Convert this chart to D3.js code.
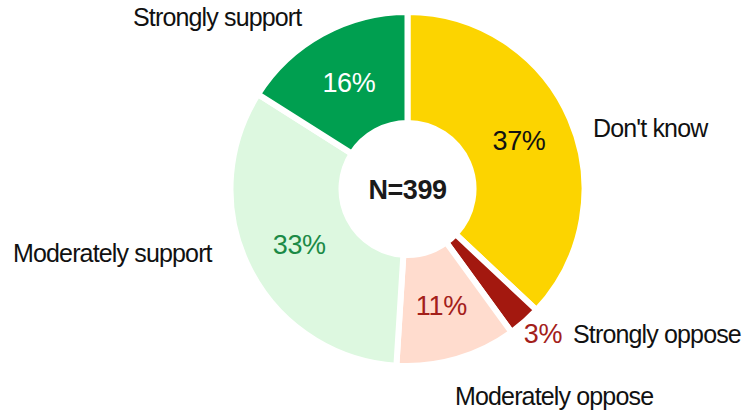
<!DOCTYPE html>
<html>
<head>
<meta charset="utf-8">
<script src="https://cdn.jsdelivr.net/npm/d3@7"></script>
<style>
  body { margin: 0; background: #fff; }
  text { font-family: "Liberation Sans", Arial, sans-serif; }
</style>
</head>
<body>
<div id="chart"></div>
<script>
// data
const categories = ["Don't know", "Strongly oppose", "Moderately oppose", "Moderately support", "Strongly support"];
const shares = [37, 3, 11, 33, 16];
const sampleSize = 399;

const colors = ["#FCD400", "#A3180F", "#FFDCCE", "#DDF8E0", "#009F50"];
const pctColors = ["#111", "#A3201A", "#A3201A", "#1B8A46", "#fff"];

// where the category names go (start x, baseline y)
const namePos = {
    "Don't know": [593, 137],
    "Strongly oppose": [573, 343],
    "Moderately oppose": [455, 405],
    "Moderately support": [13, 262],
    "Strongly support": [133, 26]
};

const width = 743, height = 412;
const cx = 407.5, cy = 189;
const rOuter = 177, rInner = 66;

const svg = d3.select("#chart").append("svg")
    .attr("width", width)
    .attr("height", height);

const data = categories.map((c, i) => ({ name: c, value: shares[i], i }));

const pie = d3.pie().sort(null).value(d => d.value);
const arc = d3.arc().innerRadius(rInner).outerRadius(rOuter);
const arcs = pie(data);

const g = svg.append("g").attr("transform", `translate(${cx},${cy})`);

g.selectAll("path")
    .data(arcs).enter()
    .append("path")
    .attr("d", arc)
    .attr("fill", d => colors[d.data.i])
    .attr("stroke", "#fff")
    .attr("stroke-width", 6)
    .attr("stroke-linejoin", "miter");

// percentages
const labelArc = d3.arc().innerRadius(69).outerRadius(174);
g.selectAll("text.pct")
    .data(arcs).enter()
    .append("text")
    .attr("class", "pct")
    .attr("text-anchor", "middle")
    .attr("font-size", 27)
    .attr("letter-spacing", -0.3)
    .attr("fill", d => pctColors[d.data.i])
    .attr("x", d => d.data.name === "Strongly oppose" ? 543 - cx : labelArc.centroid(d)[0])
    .attr("y", d => d.data.name === "Strongly oppose" ? 343 - cy : labelArc.centroid(d)[1] + 9.5)
    .text(d => d.data.value + "%");

// category names
svg.selectAll("text.name")
    .data(data).enter()
    .append("text")
    .attr("class", "name")
    .attr("font-size", 25)
    .attr("letter-spacing", -0.85)
    .attr("fill", "#111")
    .attr("x", d => namePos[d.name][0])
    .attr("y", d => namePos[d.name][1])
    .text(d => d.name);

// center
g.append("text")
    .attr("text-anchor", "middle")
    .attr("y", 10)
    .attr("font-size", 27)
    .attr("font-weight", "bold")
    .attr("letter-spacing", -0.5)
    .attr("fill", "#1a1a1a")
    .text("N=" + sampleSize);
</script>
</body>
</html>
